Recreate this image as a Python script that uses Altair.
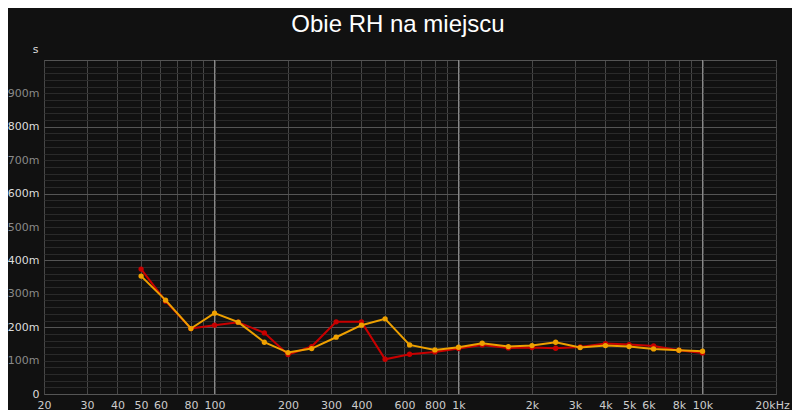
import altair as alt
import pandas as pd

freqs = [50, 63, 80, 100, 125, 160, 200, 250, 315, 400, 500, 630, 800,
         1000, 1250, 1600, 2000, 2500, 3150, 4000, 5000, 6300, 8000, 10000]
red_ms = [374, 278, 196, 206, 215, 183, 118, 142, 216, 216, 104, 119, 126,
          136, 147, 138, 139, 137, 141, 151, 148, 144, 131, 123]
orange_ms = [353, 281, 196, 242, 215, 155, 124, 136, 170, 206, 225, 147, 132,
             140, 152, 142, 145, 155, 139, 145, 142, 135, 131, 128]

x_grid = [20, 30, 40, 50, 60, 70, 80, 90, 100, 200, 300, 400, 500, 600, 700, 800, 900,
          1000, 2000, 3000, 4000, 5000, 6000, 7000, 8000, 9000, 10000, 20000]
x_decades = [100, 1000, 10000]
x_labelled = [20, 30, 40, 50, 60, 80, 100, 200, 300, 400, 600, 800,
              1000, 2000, 3000, 4000, 5000, 6000, 8000, 10000, 20000]
y_grid = list(range(0, 1001, 20))

BG = "#111111"
RED = "#c80000"
ORANGE = "#eea000"

df_red = pd.DataFrame({"f": freqs, "v": red_ms})
df_orange = pd.DataFrame({"f": freqs, "v": orange_ms})
df_dec = pd.DataFrame({"f": x_decades})

is_labelled = " || ".join(f"datum.value == {v}" for v in x_labelled)
x_label_expr = (
    f"!({is_labelled}) ? '' : "
    "(datum.value == 20000 ? '20kHz' : "
    "(datum.value >= 1000 ? (datum.value / 1000) + 'k' : '' + datum.value))"
)
y_label_expr = (
    "(datum.value % 100 != 0 || datum.value >= 1000) ? '' : "
    "(datum.value == 0 ? '0' : datum.value + 'm')"
)

x_scale = alt.Scale(type="log", domain=[20, 20000], nice=False)

x_enc = alt.X(
    "f:Q",
    scale=x_scale,
    axis=alt.Axis(
        values=x_grid,
        labelExpr=x_label_expr,
        labelOverlap=False,
        labelFlush=False,
        labelBound=False,
        title=None,
        domain=False,
        ticks=False,
        labelPadding=5,
        labelOffset=alt.condition("datum.value == 20000", alt.value(-4), alt.value(0)),
        labelFont="DejaVu Sans",
        labelFontSize=11,
        labelColor="#cccccc",
        gridColor="#474747",
        gridWidth=1,
    ),
)
y_enc = alt.Y(
    "v:Q",
    scale=alt.Scale(domain=[0, 1000], nice=False),
    axis=alt.Axis(
        values=y_grid,
        labelExpr=y_label_expr,
        labelOverlap=False,
        labelFlush=False,
        labelBound=False,
        domain=False,
        ticks=False,
        labelPadding=5,
        labelFont="DejaVu Sans",
        labelFontSize=11,
        labelColor=alt.condition("datum.value % 200 == 0",
                                 alt.value("#dddddd"), alt.value("#8a8a8a")),
        gridColor=alt.condition("datum.value % 200 == 0",
                                alt.value("#555555"), alt.value("#2a2a2a")),
        gridWidth=1,
        title="s",
        titleAngle=0,
        titleAlign="center",
        titleBaseline="middle",
        titleX=-9,
        titleY=-11,
        titleFont="DejaVu Sans",
        titleFontSize=11,
        titleFontWeight="normal",
        titleColor="#dddddd",
    ),
)

decade_rules = alt.Chart(df_dec).mark_rule(color="#8f8f8f", strokeWidth=1).encode(
    x=x_enc
)


def series(df, color):
    base = alt.Chart(df).encode(x=x_enc, y=y_enc)
    line = base.mark_line(color=color, strokeWidth=2, clip=True)
    pts = base.mark_point(color=color, filled=True, size=28, opacity=1)
    return line + pts


chart = alt.layer(
    decade_rules,
    series(df_red, RED),
    series(df_orange, ORANGE),
).properties(
    width=732,
    height=334,
    autosize=alt.AutoSizeParams(type="none"),
    padding={"left": 36, "top": 52, "right": 16, "bottom": 16},
    background=BG,
    title=alt.TitleParams(
        "Obie RH na miejscu",
        font="Liberation Sans",
        fontSize=24,
        fontWeight="normal",
        color="#ffffff",
        anchor="middle",
        dx=-12,
        offset=6,
    ),
).configure_view(
    stroke="#555555",
    strokeWidth=1,
    fill=BG,
)

chart.save("out.html", embed_options={"renderer": "svg", "actions": False})
